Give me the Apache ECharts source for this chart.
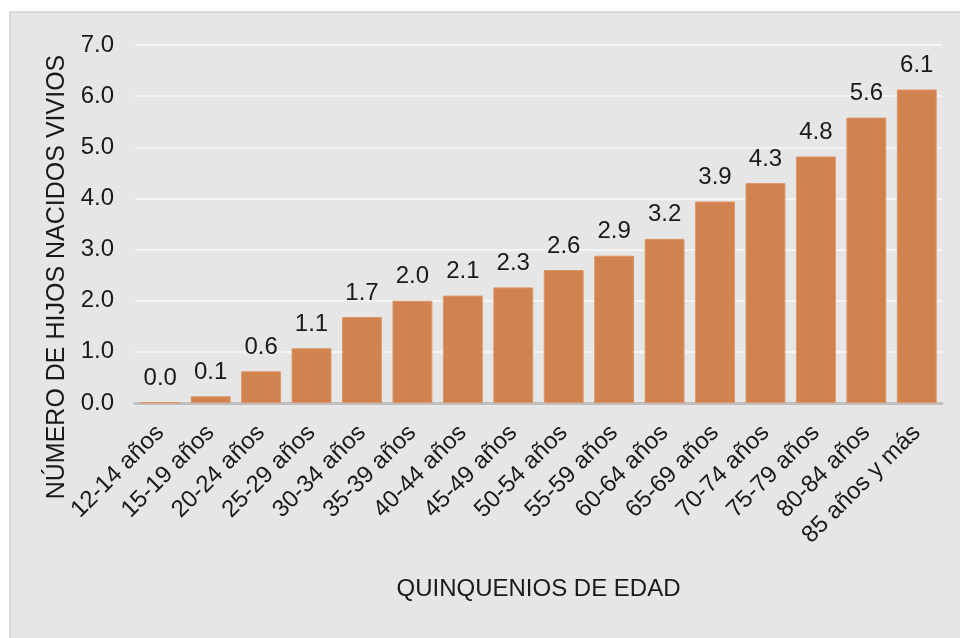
<!DOCTYPE html>
<html>
<head>
<meta charset="utf-8">
<script src="https://cdn.jsdelivr.net/npm/echarts@6/dist/echarts.min.js"></script>
<style>
  html, body { margin: 0; padding: 0; background: #ffffff; }
  #box { position: absolute; left: 9px; top: 11px; width: 951px; height: 627px; background: #e6e6e6; border-left: 2px solid #d9d9d9; border-top: 2px solid #d9d9d9; box-sizing: border-box; }
  #main { position: absolute; left: 0; top: 0; width: 960px; height: 638px; }
</style>
</head>
<body>
<div id="box"></div>
<div id="main"></div>
<script>
var categories = ['12-14 años', '15-19 años', '20-24 años', '25-29 años', '30-34 años', '35-39 años',
  '40-44 años', '45-49 años', '50-54 años', '55-59 años', '60-64 años', '65-69 años',
  '70-74 años', '75-79 años', '80-84 años', '85 años y más']
var hijos = [0.01, 0.13, 0.62, 1.07, 1.68, 2.0, 2.1, 2.26, 2.6, 2.88, 3.21, 3.94, 4.3, 4.82, 5.58, 6.13]

var chart = echarts.init(document.getElementById('main'))
var font = '"Liberation Sans", Arial, sans-serif'

chart.setOption({
  backgroundColor: 'transparent',
  textStyle: { fontFamily: font },
  grid: {
    left: 135,
    right: 18,
    top: 45,
    bottom: 235,
    outerBoundsMode: 'none'
  },
  xAxis: {
    type: 'category',
    data: categories,
    name: 'QUINQUENIOS DE EDAD',
    nameLocation: 'middle',
    nameGap: 174,
    nameTextStyle: { color: '#1a1a1a', fontSize: 24, fontFamily: font },
    axisLine: { lineStyle: { color: '#bfbfbf', width: 3 } },
    axisTick: { show: false },
    axisLabel: {
      rotate: 45,
      interval: 0,
      margin: 26,
      color: '#1a1a1a',
      fontSize: 24,
      fontFamily: font
    }
  },
  yAxis: {
    type: 'value',
    min: 0,
    max: 7,
    interval: 1,
    name: 'NÚMERO DE HIJOS NACIDOS VIVIOS',
    nameLocation: 'middle',
    nameGap: 64,
    nameTextStyle: { color: '#1a1a1a', fontSize: 25, fontFamily: font, padding: [0, 106, 0, 0] },
    axisLine: { show: false },
    axisTick: { show: false },
    axisLabel: {
      margin: 21,
      color: '#1a1a1a',
      fontSize: 24,
      fontFamily: font,
      formatter: function (v) { return v.toFixed(1) }
    },
    splitLine: { lineStyle: { color: '#f4f4f4', width: 2 } }
  },
  series: [{
    type: 'bar',
    data: hijos,
    barCategoryGap: '21%',
    itemStyle: { color: '#d1834f', borderColor: '#dc9565', borderWidth: 1 },
    label: {
      show: true,
      position: 'top',
      distance: 12,
      color: '#1a1a1a',
      fontSize: 24,
      fontFamily: font,
      formatter: function (p) { return p.value.toFixed(1) }
    },
    animation: false
  }]
})
</script>
</body>
</html>
